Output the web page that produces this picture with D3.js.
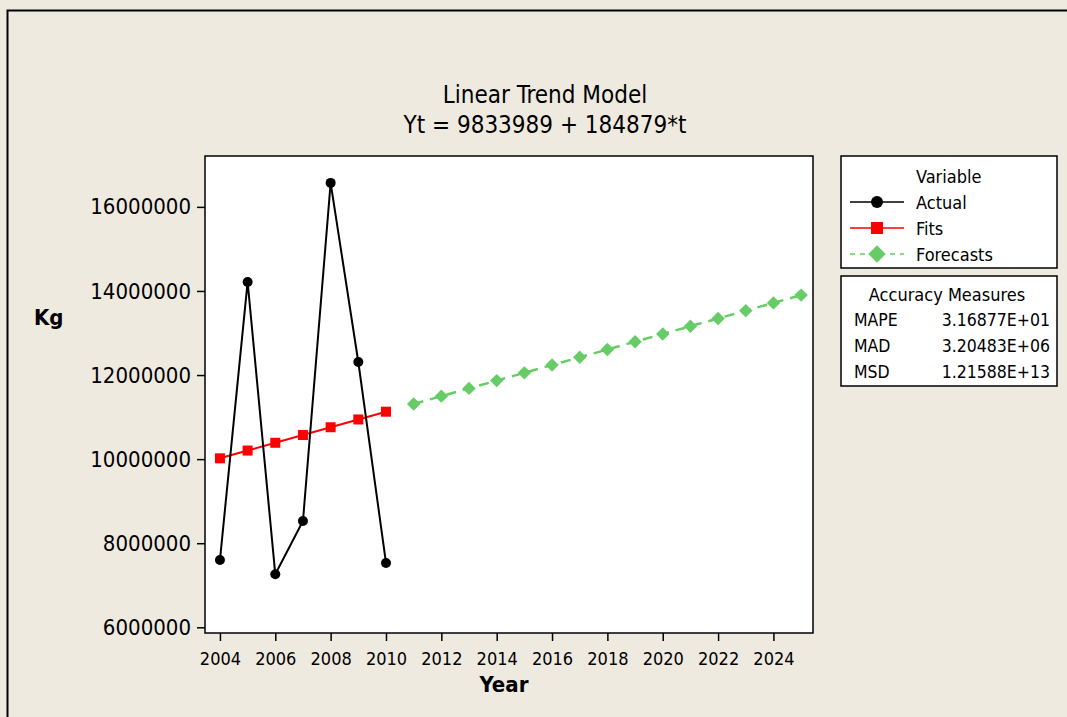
<!DOCTYPE html>
<html>
<head>
<meta charset="utf-8">
<script src="https://cdn.jsdelivr.net/npm/d3@7/dist/d3.min.js"></script>
<style>
  html, body { margin: 0; padding: 0; background: #EEEAE0; }
  svg { display: block; }
  text { font-family: "DejaVu Sans Condensed", "DejaVu Sans", sans-serif; fill: #000; }
</style>
</head>
<body>
<script>
// ---- data ----
const years = [2004, 2005, 2006, 2007, 2008, 2009, 2010];
const actual = [7600000, 14215000, 7260000, 8530000, 16570000, 12310000, 7530000];
const fits = [10018868, 10203747, 10388626, 10573505, 10758384, 10943263, 11128142];
const forecastYears = [2011, 2012, 2013, 2014, 2015, 2016, 2017, 2018, 2019, 2020, 2021, 2022, 2023, 2024, 2025];
const forecasts = [11313021, 11497900, 11682779, 11867658, 12052537, 12237416, 12422295, 12607174,
                   12792053, 12976932, 13161811, 13346690, 13531569, 13716448, 13901327];
const xTicks = [2004, 2006, 2008, 2010, 2012, 2014, 2016, 2018, 2020, 2022, 2024];
const yTicks = [6000000, 8000000, 10000000, 12000000, 14000000, 16000000];
const titleLines = ["Linear Trend Model", "Yt = 9833989 + 184879*t"];
const legendLabels = ["Actual", "Fits", "Forecasts"];
const accNames = ["MAPE", "MAD", "MSD"];
const accValues = ["3.16877E+01", "3.20483E+06", "1.21588E+13"];

// ---- layout ----
const W = 1067, H = 717;
const plot = { left: 205, top: 156, right: 813, bottom: 633 };

const svg = d3.select("body").append("svg").attr("width", W).attr("height", H);
svg.append("rect").attr("width", W).attr("height", H).attr("fill", "#EEEAE0");
// outer frame (left & top visible)
svg.append("rect").attr("x", 7.5).attr("y", 10.5).attr("width", W + 20).attr("height", H + 20)
  .attr("fill", "none").attr("stroke", "#000").attr("stroke-width", 2);

const x = d3.scaleLinear().domain([2003.46, 2025.43]).range([plot.left, plot.right]);
const y = d3.scaleLinear().domain([5864500, 17210000]).range([plot.bottom, plot.top]);

svg.append("rect").attr("x", plot.left).attr("y", plot.top)
  .attr("width", plot.right - plot.left).attr("height", plot.bottom - plot.top)
  .attr("fill", "#fff").attr("stroke", "#000").attr("stroke-width", 1.5);

// title
svg.selectAll("text.title").data(titleLines).enter().append("text")
  .attr("class", "title").attr("x", 545).attr("y", (d, i) => 103 + i * 30)
  .attr("text-anchor", "middle").style("font-size", "24px").text(d => d);

// axes
const yAxis = svg.append("g").attr("transform", `translate(${plot.left},0)`)
  .call(d3.axisLeft(y).tickValues(yTicks).tickFormat(d3.format("d")).tickSize(8).tickPadding(6));
yAxis.select(".domain").remove();
yAxis.selectAll("line").attr("stroke", "#000").attr("stroke-width", 1.5);
yAxis.selectAll("text").style("font-size", "22px").attr("fill", "#000");

const xAxis = svg.append("g").attr("transform", `translate(0,${plot.bottom})`)
  .call(d3.axisBottom(x).tickValues(xTicks).tickFormat(d3.format("d")).tickSize(8));
xAxis.select(".domain").remove();
xAxis.selectAll("line").attr("stroke", "#000").attr("stroke-width", 1.5);
xAxis.selectAll("text").attr("dy", 0).attr("y", 32).style("font-size", "18px").attr("fill", "#000");

svg.append("text").attr("x", 504).attr("y", 692).attr("text-anchor", "middle")
  .style("font-size", "22px").style("font-weight", "bold").text("Year");
svg.append("text").attr("x", 34).attr("y", 325)
  .style("font-size", "22px").style("font-weight", "bold").text("Kg");

// series
const g = svg.append("g");
const actualPts = years.map((yr, i) => [yr, actual[i]]);
const fitPts = years.map((yr, i) => [yr, fits[i]]);
const fcPts = forecastYears.map((yr, i) => [yr, forecasts[i]]);
const line = d3.line().x(d => x(d[0])).y(d => y(d[1]));

g.append("path").attr("d", line(fitPts)).attr("fill", "none").attr("stroke", "#FF0000").attr("stroke-width", 2);
g.append("path").attr("d", line(fcPts)).attr("fill", "none").attr("stroke", "#66CC66")
  .attr("stroke-width", 2.5).attr("stroke-dasharray", "10,7");
g.append("path").attr("d", line(actualPts)).attr("fill", "none").attr("stroke", "#000").attr("stroke-width", 2);

g.selectAll("rect.fit").data(fitPts).enter().append("rect").attr("class", "fit")
  .attr("x", d => x(d[0]) - 5).attr("y", d => y(d[1]) - 5).attr("width", 10).attr("height", 10)
  .attr("fill", "#FF0000");
g.selectAll("path.fc").data(fcPts).enter().append("path").attr("class", "fc")
  .attr("transform", d => `translate(${x(d[0])},${y(d[1])}) rotate(45)`)
  .attr("d", d3.symbol().type(d3.symbolSquare).size(90)).attr("fill", "#66CC66");
g.selectAll("circle.act").data(actualPts).enter().append("circle").attr("class", "act")
  .attr("cx", d => x(d[0])).attr("cy", d => y(d[1])).attr("r", 5).attr("fill", "#000");

// legend
const lg = svg.append("g");
lg.append("rect").attr("x", 841).attr("y", 156).attr("width", 216).attr("height", 112)
  .attr("fill", "#fff").attr("stroke", "#000").attr("stroke-width", 1.5);
lg.append("text").attr("x", 916).attr("y", 183).style("font-size", "18px").text("Variable");
const rowsY = [202, 228, 254];
const colors = ["#000", "#FF0000", "#66CC66"];
legendLabels.forEach((lab, i) => {
  const yy = rowsY[i];
  const ln = lg.append("line").attr("x1", 850).attr("x2", 904).attr("y1", yy).attr("y2", yy)
    .attr("stroke", colors[i]).attr("stroke-width", 1.5);
  if (i === 2) ln.attr("stroke-dasharray", "5,5").attr("stroke-width", 1.5);
  if (i === 0) lg.append("circle").attr("cx", 877).attr("cy", yy).attr("r", 6).attr("fill", "#000");
  if (i === 1) lg.append("rect").attr("x", 871).attr("y", yy - 6).attr("width", 12).attr("height", 12).attr("fill", "#FF0000");
  if (i === 2) lg.append("path").attr("transform", `translate(877,${yy}) rotate(45)`)
    .attr("d", d3.symbol().type(d3.symbolSquare).size(150)).attr("fill", "#66CC66");
  lg.append("text").attr("x", 916).attr("y", yy + 7).style("font-size", "18px").text(lab);
});

const ag = svg.append("g");
ag.append("rect").attr("x", 841).attr("y", 276).attr("width", 216).attr("height", 110)
  .attr("fill", "#fff").attr("stroke", "#000").attr("stroke-width", 1.5);
ag.append("text").attr("x", 947).attr("y", 301).attr("text-anchor", "middle").style("font-size", "18px").text("Accuracy Measures");
accNames.forEach((n, i) => {
  const yy = 326 + i * 26;
  ag.append("text").attr("x", 854).attr("y", yy).style("font-size", "17.5px").text(n);
  ag.append("text").attr("x", 1050).attr("y", yy).attr("text-anchor", "end").style("font-size", "17.5px").text(accValues[i]);
});
</script>
</body>
</html>
